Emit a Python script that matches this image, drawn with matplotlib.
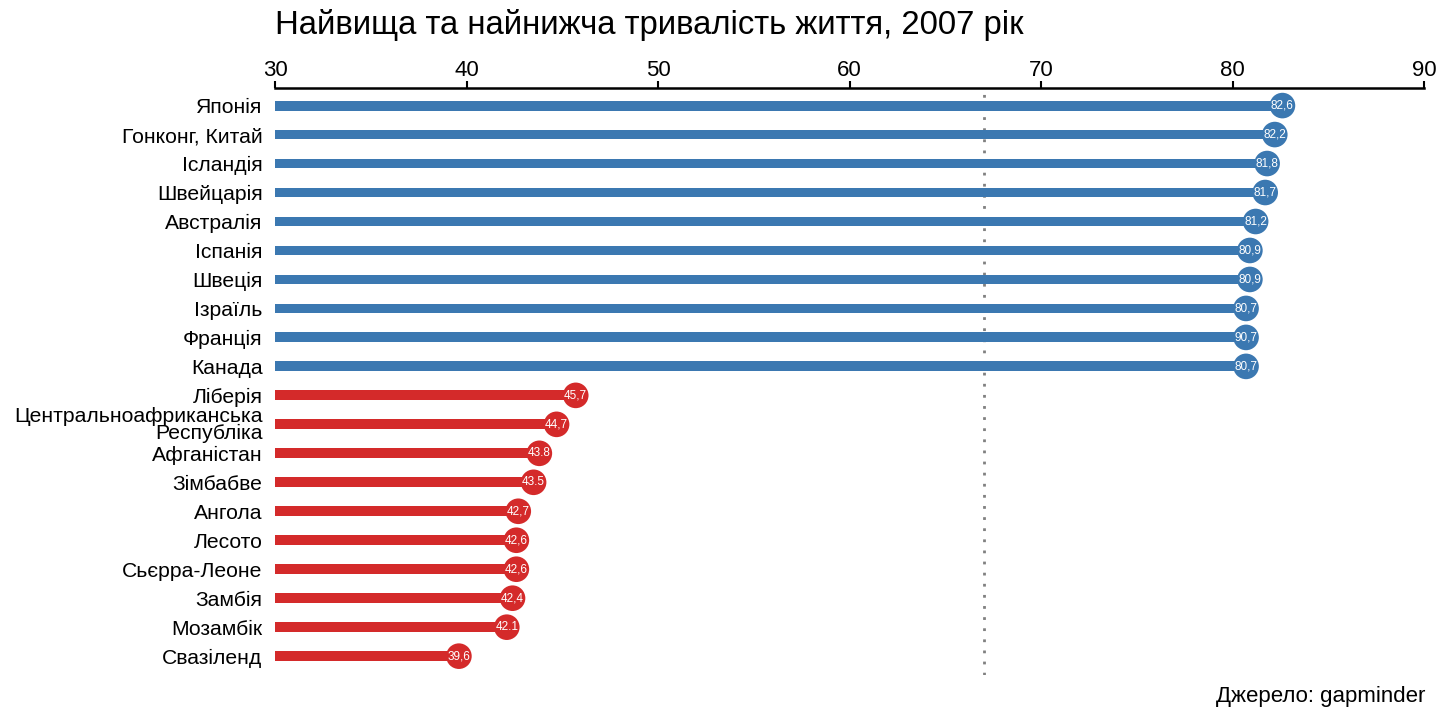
import matplotlib
matplotlib.use("Agg")
import matplotlib.pyplot as plt

plt.rcParams["font.family"] = ["Liberation Sans", "DejaVu Sans"]

# Data (gapminder, 2007)
countries = [
    "Японія", "Гонконг, Китай", "Ісландія", "Швейцарія", "Австралія",
    "Іспанія", "Швеція", "Ізраїль", "Франція", "Канада",
    "Ліберія", "Центральноафриканська\nРеспубліка", "Афганістан", "Зімбабве",
    "Ангола", "Лесото", "Сьєрра-Леоне", "Замбія", "Мозамбік", "Свазіленд",
]
life_exp = [
    82.6, 82.2, 81.8, 81.7, 81.2, 80.9, 80.9, 80.7, 80.7, 80.7,
    45.7, 44.7, 43.8, 43.5, 42.7, 42.6, 42.6, 42.4, 42.1, 39.6,
]
# labels as printed in the circles (mixed separators kept as in the source)
value_labels = [
    "82,6", "82,2", "81,8", "81,7", "81,2", "80,9", "80,9", "80,7", "90,7", "80,7",
    "45,7", "44,7", "43.8", "43.5", "42,7", "42,6", "42,6", "42,4", "42.1", "39,6",
]
group = ["top"] * 10 + ["bottom"] * 10
world_mean = 67.0
x_ticks = [30, 40, 50, 60, 70, 80, 90]

colors = {"top": "#3b78b1", "bottom": "#d42a2a"}

fig = plt.figure(figsize=(14.4, 7.2), dpi=100)
ax = fig.add_axes([0.191, 0.0625, 0.798, 0.815])

y = list(range(len(countries)))
bar_colors = [colors[g] for g in group]
ax.barh(y, [v - 30 for v in life_exp], left=30, height=0.34, color=bar_colors, zorder=2)
ax.scatter(life_exp, y, s=340, color=bar_colors, zorder=3, linewidths=0)
for yi, v, lab in zip(y, life_exp, value_labels):
    ax.text(v, yi, lab, color="white", fontsize=8.5, ha="center", va="center", zorder=4)

ax.axvline(world_mean, color="#808080", linestyle=(0, (1, 3)), linewidth=2, zorder=1)

ax.set_xlim(30, 90)
ax.set_ylim(19.65, -0.6)
ax.set_xticks(x_ticks)
ax.xaxis.tick_top()
ax.tick_params(axis="x", labelsize=16, length=5, width=1.5, pad=0)
ax.set_yticks(y)
ax.set_yticklabels(countries, fontsize=15.2, linespacing=0.85)
ax.tick_params(axis="y", length=0, pad=9)

for side in ["bottom", "left", "right"]:
    ax.spines[side].set_visible(False)
ax.spines["top"].set_linewidth(1.8)

fig.text(0.191, 0.965, "Найвища та найнижча тривалість життя, 2007 рік",
         fontsize=23.7, ha="left", va="center")
fig.text(0.99, 0.032, "Джерело: gapminder", fontsize=16, ha="right", va="center")

fig.savefig("out.png", dpi=100)
